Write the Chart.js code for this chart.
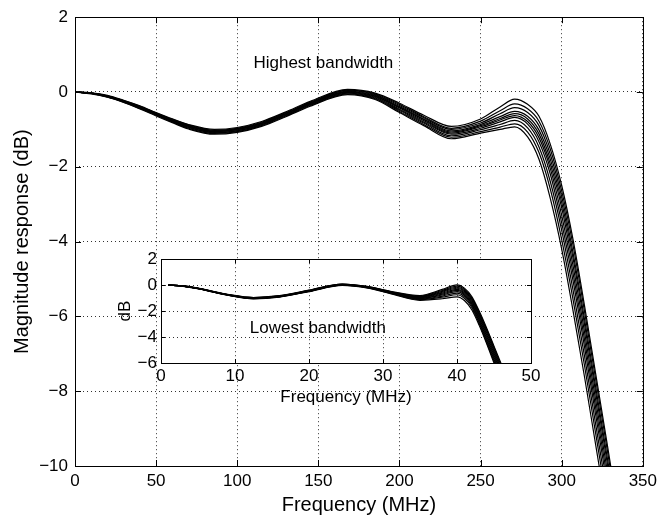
<!DOCTYPE html>
<html>
<head>
<meta charset="utf-8">
<script src="https://cdn.jsdelivr.net/npm/chart.js@4.4.1/dist/chart.umd.min.js"></script>
<style>
  html, body { margin: 0; padding: 0; background: #fff; }
  #wrap { position: relative; width: 662px; height: 521px; }
  #mainChart { position: absolute; left: 0; top: 0; }
  #insetChart { position: absolute; left: 100px; top: 245px; }
</style>
</head>
<body>
<div id="wrap">
  <canvas id="mainChart" width="662" height="521"></canvas>
  <canvas id="insetChart" width="445" height="175"></canvas>
</div>
<script>
// highest bandwidth filters, frequency in MHz
const freqHigh = [0, 10, 20, 30, 40, 50, 60, 70, 86, 100, 115, 130, 145, 168, 185, 200, 215, 232, 250, 262, 271, 279, 286, 293, 300, 307, 314, 321, 328, 335];
const high1  = [0, -0.02, -0.09, -0.22, -0.37, -0.55, -0.72, -0.87, -1.00, -0.95, -0.79, -0.53, -0.25, 0.07, -0.03, -0.30, -0.62, -0.92, -0.72, -0.40, -0.19, -0.33, -0.65, -1.40, -2.5, -3.95, -5.7, -7.55, -9.4, -11.3];
const high2  = [0, -0.03, -0.10, -0.23, -0.38, -0.56, -0.73, -0.88, -1.02, -0.97, -0.81, -0.55, -0.27, 0.05, -0.05, -0.33, -0.66, -0.97, -0.78, -0.50, -0.32, -0.45, -0.78, -1.53, -2.65, -4.1, -5.85, -7.7, -9.55, -11.45];
const high3  = [0, -0.03, -0.11, -0.24, -0.39, -0.57, -0.75, -0.90, -1.03, -0.98, -0.83, -0.57, -0.29, 0.04, -0.07, -0.36, -0.69, -1.00, -0.83, -0.58, -0.42, -0.55, -0.90, -1.67, -2.8, -4.3, -6.05, -7.9, -9.75, -11.65];
const high4  = [0, -0.03, -0.11, -0.24, -0.40, -0.58, -0.76, -0.91, -1.05, -1.00, -0.84, -0.58, -0.30, 0.02, -0.09, -0.39, -0.72, -1.04, -0.87, -0.66, -0.52, -0.65, -1.02, -1.80, -2.95, -4.45, -6.2, -8.05, -9.9, -11.8];
const high5  = [0, -0.03, -0.11, -0.24, -0.40, -0.58, -0.76, -0.91, -1.05, -1.00, -0.84, -0.58, -0.30, 0.01, -0.11, -0.41, -0.74, -1.07, -0.90, -0.71, -0.58, -0.72, -1.12, -1.93, -3.1, -4.65, -6.4, -8.25, -10.1, -12.0];
const high6  = [0, -0.03, -0.12, -0.25, -0.41, -0.59, -0.77, -0.92, -1.06, -1.01, -0.85, -0.59, -0.31, 0.00, -0.12, -0.43, -0.77, -1.10, -0.93, -0.75, -0.63, -0.79, -1.22, -2.05, -3.3, -4.85, -6.6, -8.45, -10.3, -12.2];
const high7  = [0, -0.04, -0.12, -0.25, -0.42, -0.60, -0.78, -0.94, -1.08, -1.03, -0.87, -0.61, -0.33, -0.01, -0.14, -0.46, -0.80, -1.13, -0.97, -0.80, -0.68, -0.86, -1.33, -2.20, -3.5, -5.05, -6.8, -8.65, -10.5, -12.4];
const high8  = [0, -0.04, -0.13, -0.26, -0.43, -0.61, -0.79, -0.95, -1.09, -1.04, -0.88, -0.62, -0.34, -0.03, -0.16, -0.49, -0.83, -1.17, -1.01, -0.87, -0.76, -0.96, -1.47, -2.40, -3.7, -5.3, -7.05, -8.9, -10.75, -12.65];
const high9  = [0, -0.04, -0.13, -0.27, -0.44, -0.62, -0.80, -0.97, -1.11, -1.06, -0.90, -0.64, -0.36, -0.05, -0.18, -0.52, -0.87, -1.21, -1.06, -0.94, -0.85, -1.07, -1.62, -2.60, -3.95, -5.55, -7.3, -9.15, -11.0, -12.9];
const high10 = [0, -0.05, -0.14, -0.28, -0.45, -0.64, -0.82, -0.99, -1.13, -1.08, -0.92, -0.66, -0.38, -0.07, -0.20, -0.55, -0.90, -1.25, -1.10, -1.00, -0.93, -1.20, -1.80, -2.85, -4.2, -5.85, -7.6, -9.45, -11.3, -13.2];

// lowest bandwidth filters (inset)
const freqLow = [1, 3, 5, 7, 9, 12.5, 16, 20, 24.5, 28, 31, 35, 38, 40, 41, 42, 43, 44, 45, 46, 47];
const low1  = [0, -0.06, -0.23, -0.47, -0.71, -0.95, -0.81, -0.39, 0.09, -0.11, -0.47, -0.80, -0.33, 0.02, -0.23, -0.88, -2.0, -3.3, -4.7, -6.1, -7.5];
const low2  = [0, -0.06, -0.24, -0.48, -0.72, -0.96, -0.82, -0.40, 0.08, -0.12, -0.49, -0.85, -0.41, -0.08, -0.32, -0.98, -2.1, -3.4, -4.8, -6.25, -7.7];
const low3  = [0, -0.07, -0.25, -0.49, -0.73, -0.98, -0.84, -0.42, 0.06, -0.14, -0.52, -0.89, -0.48, -0.16, -0.41, -1.07, -2.2, -3.5, -4.95, -6.4, -7.85];
const low4  = [0, -0.07, -0.25, -0.50, -0.74, -0.99, -0.85, -0.43, 0.05, -0.15, -0.53, -0.93, -0.55, -0.24, -0.49, -1.16, -2.3, -3.65, -5.1, -6.55, -8.0];
const low5  = [0, -0.07, -0.25, -0.50, -0.74, -1.00, -0.86, -0.44, 0.04, -0.16, -0.55, -0.96, -0.62, -0.32, -0.58, -1.26, -2.42, -3.8, -5.25, -6.7, -8.15];
const low6  = [0, -0.07, -0.26, -0.51, -0.75, -1.01, -0.87, -0.45, 0.03, -0.17, -0.57, -1.00, -0.69, -0.41, -0.68, -1.36, -2.55, -3.95, -5.4, -6.85, -8.3];
const low7  = [0, -0.08, -0.26, -0.51, -0.75, -1.02, -0.88, -0.46, 0.02, -0.18, -0.58, -1.04, -0.76, -0.50, -0.78, -1.46, -2.68, -4.1, -5.55, -7.0, -8.45];
const low8  = [0, -0.08, -0.27, -0.52, -0.76, -1.03, -0.89, -0.47, 0.01, -0.20, -0.60, -1.08, -0.84, -0.61, -0.89, -1.58, -2.82, -4.25, -5.7, -7.15, -8.6];
const low9  = [0, -0.08, -0.27, -0.52, -0.77, -1.04, -0.90, -0.48, 0.00, -0.21, -0.62, -1.12, -0.93, -0.74, -1.02, -1.72, -2.95, -4.4, -5.85, -7.3, -8.75];
const low10 = [0, -0.09, -0.28, -0.53, -0.78, -1.06, -0.92, -0.50, -0.02, -0.23, -0.65, -1.17, -1.05, -0.90, -1.18, -1.90, -3.1, -4.5, -6.0, -7.5, -9.0];

const mainTicksX = [0, 50, 100, 150, 200, 250, 300, 350];
const mainTicksY = [-10, -8, -6, -4, -2, 0, 2];
const insetTicksX = [0, 10, 20, 30, 40, 50];
const insetTicksY = [-6, -4, -2, 0, 2];

Chart.defaults.font.family = "'Liberation Sans', Arial, sans-serif";
Chart.defaults.font.size = 17;
Chart.defaults.color = '#000';

const minus = v => String(v).replace('-', '\u2212');

function toSets(freq, series) {
  return series.map(s => ({
    data: s.map((v, i) => ({ x: freq[i], y: v })),
    borderColor: '#000',
    borderWidth: 1.2,
    pointRadius: 0,
    cubicInterpolationMode: 'monotone',
    fill: false
  }));
}

// matlab style box, inward ticks and a text note
const boxPlugin = {
  id: 'box',
  beforeDraw(chart, args, opts) {
    if (!opts.whiteBg) return;
    const a = chart.chartArea;
    chart.ctx.save();
    chart.ctx.fillStyle = '#fff';
    chart.ctx.fillRect(a.left, a.top, a.right - a.left, a.bottom - a.top);
    chart.ctx.restore();
  },
  afterDraw(chart, args, opts) {
    const { ctx, chartArea: a, scales: { x, y } } = chart;
    const len = opts.tickLen || 5;
    ctx.save();
    ctx.strokeStyle = '#000';
    ctx.lineWidth = 1;
    ctx.strokeRect(Math.round(a.left) + 0.5, Math.round(a.top) + 0.5, Math.round(a.right - a.left), Math.round(a.bottom - a.top));
    ctx.beginPath();
    x.ticks.forEach(t => {
      const px = Math.round(x.getPixelForValue(t.value)) + 0.5;
      ctx.moveTo(px, a.bottom); ctx.lineTo(px, a.bottom - len);
      ctx.moveTo(px, a.top); ctx.lineTo(px, a.top + len);
    });
    y.ticks.forEach(t => {
      const py = Math.round(y.getPixelForValue(t.value)) + 0.5;
      ctx.moveTo(a.left, py); ctx.lineTo(a.left + len, py);
      ctx.moveTo(a.right, py); ctx.lineTo(a.right - len, py);
    });
    ctx.stroke();
    if (opts.note) {
      ctx.font = "17px 'Liberation Sans', Arial, sans-serif";
      ctx.fillStyle = '#000';
      ctx.textBaseline = 'middle';
      ctx.fillText(opts.note.text, x.getPixelForValue(opts.note.x), y.getPixelForValue(opts.note.y));
    }
    ctx.restore();
  }
};

const dotted = { color: '#333', lineWidth: 1, drawTicks: false };

new Chart(document.getElementById('mainChart'), {
  type: 'line',
  data: { datasets: toSets(freqHigh, [high1, high2, high3, high4, high5, high6, high7, high8, high9, high10]) },
  plugins: [boxPlugin],
  options: {
    responsive: false,
    animation: false,
    layout: { padding: { left: 0, right: 15, top: 17, bottom: 0 } },
    plugins: {
      legend: { display: false },
      tooltip: { enabled: false },
      box: { tickLen: 6, note: { text: 'Highest bandwidth', x: 110, y: 0.78 } }
    },
    scales: {
      x: {
        type: 'linear', min: 0, max: 350,
        afterBuildTicks: s => { s.ticks = mainTicksX.map(v => ({ value: v })); },
        afterFit: s => { s.height = 55; },
        ticks: { padding: 5, maxRotation: 0 },
        grid: dotted,
        border: { display: false, dash: [1, 3] },
        title: { display: true, text: 'Frequency (MHz)', font: { size: 20 }, padding: { top: 4, bottom: 4 } }
      },
      y: {
        type: 'linear', min: -10, max: 2,
        afterBuildTicks: s => { s.ticks = mainTicksY.map(v => ({ value: v })); },
        afterFit: s => { s.width = 75; },
        ticks: { padding: 7, callback: minus },
        grid: dotted,
        border: { display: false, dash: [1, 3] },
        title: { display: true, text: 'Magnitude response (dB)', font: { size: 20 }, padding: { top: 10, bottom: 0 } }
      }
    }
  }
});

new Chart(document.getElementById('insetChart'), {
  type: 'line',
  data: { datasets: toSets(freqLow, [low1, low2, low3, low4, low5, low6, low7, low8, low9, low10]) },
  plugins: [boxPlugin],
  options: {
    responsive: false,
    animation: false,
    layout: { padding: { left: 0, right: 14, top: 8, bottom: 0 } },
    plugins: {
      legend: { display: false },
      tooltip: { enabled: false },
      box: { whiteBg: true, tickLen: 4, note: { text: 'Lowest bandwidth', x: 12, y: -3.3 } }
    },
    scales: {
      x: {
        type: 'linear', min: 0, max: 50,
        afterBuildTicks: s => { s.ticks = insetTicksX.map(v => ({ value: v })); },
        afterFit: s => { s.height = 57; },
        ticks: { padding: 3, maxRotation: 0 },
        grid: dotted,
        border: { display: false, dash: [1, 3] },
        title: { display: true, text: 'Frequency (MHz)', padding: { top: 0, bottom: 12 } }
      },
      y: {
        type: 'linear', min: -6, max: 2,
        afterBuildTicks: s => { s.ticks = insetTicksY.map(v => ({ value: v })); },
        afterFit: s => { s.width = 61; },
        ticks: { padding: 4, callback: minus },
        grid: dotted,
        border: { display: false, dash: [1, 3] },
        title: { display: true, text: 'dB', padding: { top: 15, bottom: 0 } }
      }
    }
  }
});
</script>
</body>
</html>
